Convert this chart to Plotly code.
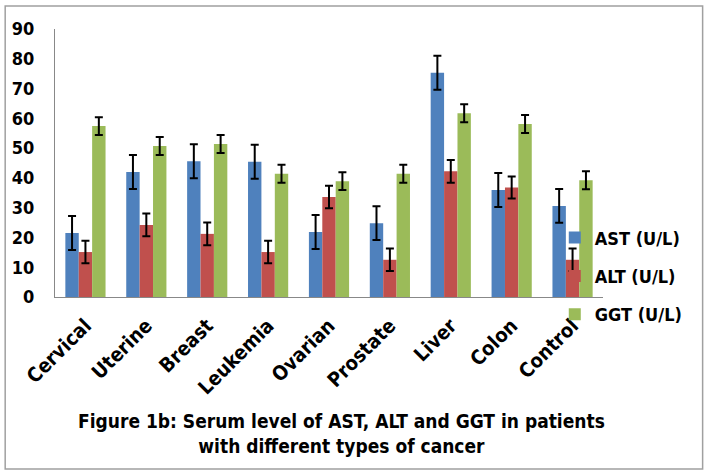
import plotly.graph_objects as go

categories = ["Cervical", "Uterine", "Breast", "Leukemia", "Ovarian", "Prostate", "Liver", "Colon", "Control"]
ast = [21.5, 42.0, 45.6, 45.4, 21.8, 24.8, 75.3, 35.9, 30.6]
alt = [15.1, 24.2, 21.2, 15.1, 33.6, 12.5, 42.2, 36.8, 12.5]
ggt = [57.4, 50.7, 51.4, 41.4, 38.9, 41.4, 61.7, 58.1, 39.2]
ast_err = [5.7, 5.7, 5.7, 5.7, 5.7, 5.7, 5.7, 5.7, 5.7]
alt_err = [3.8, 3.8, 3.8, 3.8, 3.8, 3.8, 3.8, 3.7, 3.8]
ggt_err = [3.0, 3.0, 3.0, 3.0, 3.0, 3.0, 3.0, 3.0, 3.0]
series_names = ["AST (U/L)", "ALT (U/L)", "GGT (U/L)"]
colors = ["#4F81BD", "#C0504D", "#9BBB59"]

FONT = "DejaVu Sans Condensed, Liberation Sans Narrow, DejaVu Sans"

fig = go.Figure()
for i, (name, vals, errs, col) in enumerate(zip(series_names, [ast, alt, ggt], [ast_err, alt_err, ggt_err], colors)):
    fig.add_trace(go.Bar(
        x=categories, y=vals, name=name, marker_color=col,
        marker_line_width=0, legendgroup=str(i),
        error_y=dict(type="data", array=errs, color="black", thickness=2, width=4),
    ))

fig.update_layout(
    width=708, height=474,
    margin=dict(l=53, r=105, t=29, b=177),
    paper_bgcolor="white", plot_bgcolor="white",
    barmode="group", bargap=0.34, bargroupgap=0,
    font=dict(family=FONT, color="black", size=18),
    showlegend=True,
    legend=dict(x=0.912, xanchor="left", y=0.29, yanchor="top",
                bgcolor="rgba(0,0,0,0)", traceorder="grouped", tracegroupgap=12,
                font=dict(size=18, family=FONT, weight="bold"),
                itemwidth=30),
    xaxis=dict(showline=True, linecolor="#888888", linewidth=1, ticks="",
               tickangle=-45, tickfont=dict(size=20, weight="bold", family=FONT),
               ticklabelstandoff=8, showgrid=False),
    yaxis=dict(range=[0, 90], dtick=10, showline=True, linecolor="#888888", linewidth=1,
               ticks="", showgrid=False, zeroline=False, ticklabelstandoff=16,
               tickfont=dict(size=18, weight="bold", family=FONT)),
    annotations=[dict(
        text="Figure 1b: Serum level of AST, ALT and GGT in patients<br>with different types of cancer",
        x=0.522, y=-0.511, xref="paper", yref="paper", xanchor="center", yanchor="middle",
        showarrow=False, font=dict(size=19, weight="bold", family=FONT), align="center")],
    shapes=[dict(type="rect", xref="paper", yref="paper", x0=-0.0909, x1=1.1818, y0=-0.6418, y1=1.0858,
                 line=dict(color="#A0A0A0", width=1.5))],
)

fig.write_html("out.html")
